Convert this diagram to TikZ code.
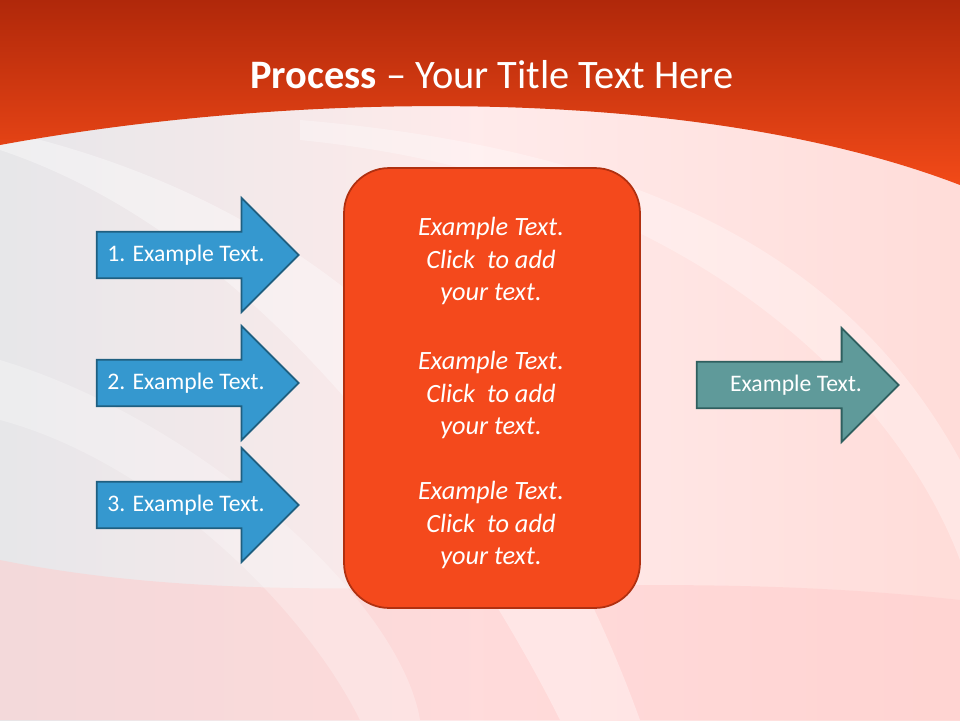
\documentclass[tikz,border=0pt]{standalone}
\usepackage{fontspec}
\setmainfont{Carlito}
\usetikzlibrary{shapes.arrows,positioning}
\definecolor{bandtop}{HTML}{B0280A}
\definecolor{bandlow}{HTML}{F24A18}
\definecolor{boxfill}{HTML}{F4491C}
\definecolor{boxline}{HTML}{B03010}
\definecolor{arrowblue}{HTML}{3598CF}
\definecolor{arrowline}{HTML}{1F5F80}
\definecolor{arrowteal}{HTML}{5F9A9A}
\definecolor{tealline}{HTML}{2F5F5F}
\tikzset{
  inarrow/.style={single arrow, draw=arrowline, fill=arrowblue, line width=1pt,
    minimum height=4.04cm, minimum width=2.28cm, single arrow head extend=0.32cm,
    single arrow tip angle=90, text=white, font=\fontsize{13.5}{16}\selectfont,
    inner sep=0pt, inner xsep=0pt},
  outarrow/.style={inarrow, draw=tealline, fill=arrowteal},
  centerbox/.style={draw=boxline, fill=boxfill, line width=1pt, rounded corners=0.9cm,
    minimum width=5.92cm, minimum height=8.8cm},
  boxtext/.style={text=white, align=center, font=\fontsize{15}{18.5}\selectfont\itshape}
}
\begin{document}
\begin{tikzpicture}[x=0.02cm, y=-0.02cm]
    % background
    \shade[shading=axis, shading angle=60, left color=blue!6!gray!18!white,
        right color=orange!18!red!15!white, middle color=red!8!white]
        (0,0) rectangle (960,720);
    \fill[red!20!white, opacity=0.5] (0,560) .. controls (300,620) and (600,560) .. (960,600)
        -- (960,720) -- (0,720) -- cycle;
    \fill[white, opacity=0.35] (0,150) .. controls (300,250) and (500,600) .. (560,720)
        -- (640,720) .. controls (560,500) and (400,220) .. (0,130) -- cycle;
    \fill[white, opacity=0.3] (300,140) .. controls (700,180) and (900,400) .. (960,560)
        -- (960,460) .. controls (850,260) and (650,150) .. (300,120) -- cycle;
    \fill[white, opacity=0.25] (0,360) .. controls (200,420) and (400,600) .. (420,720)
        -- (360,720) .. controls (300,600) and (150,460) .. (0,420) -- cycle;
    \useasboundingbox (0,0) rectangle (960,720);
    % title band
    \shade[top color=bandtop, bottom color=bandlow]
        (0,0) -- (960,0) -- (960,185) .. controls (700,85) and (300,90) .. (0,145) -- cycle;
    \node[text=white, font=\fontsize{23}{26}\selectfont] (title) at (492,75)
        {\textbf{Process} -- Your Title Text Here};

    % input arrows
    \node[inarrow] (in1) at (186,255) {1. Example Text.\hspace{0.25cm}};
    \node[inarrow] (in2) at (186,383) {2. Example Text.\hspace{0.25cm}};
    \node[inarrow] (in3) at (186,505) {3. Example Text.\hspace{0.25cm}};

    % centre box
    \node[centerbox] (box) at (492,388) {};
    \node[boxtext] (t1) at (491,261) {Example Text.\\Click\ \ to add\\your text.};
    \node[boxtext] (t2) at (491,395) {Example Text.\\Click\ \ to add\\your text.};
    \node[boxtext] (t3) at (491,525) {Example Text.\\Click\ \ to add\\your text.};

    % output arrow
    \node[outarrow] (out) at (786,385) {\hspace*{0.4cm}Example Text.};
\end{tikzpicture}
\end{document}
